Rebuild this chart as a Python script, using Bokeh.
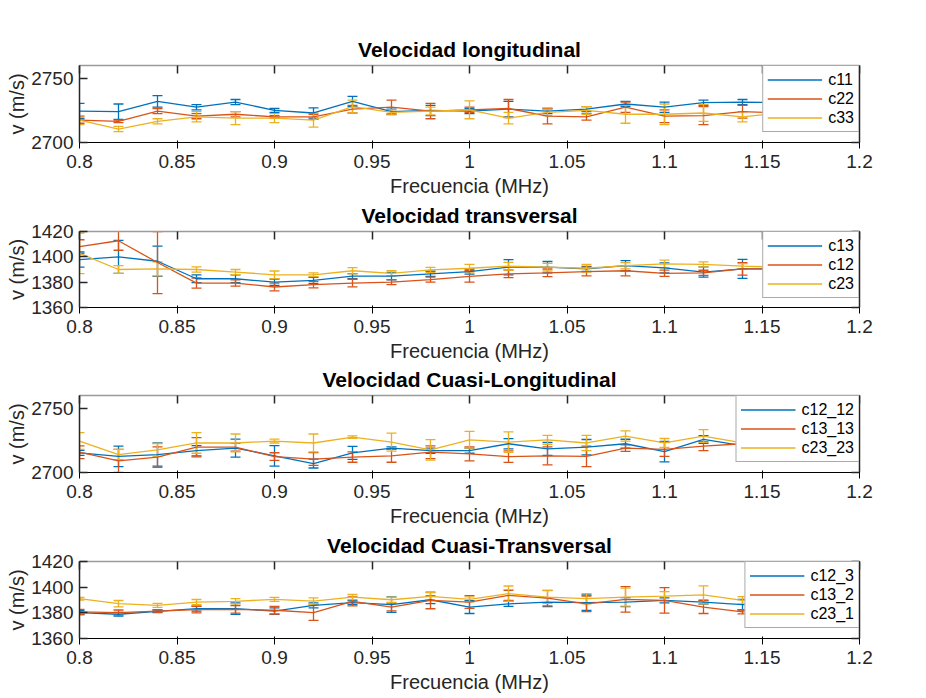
from bokeh.plotting import figure
from bokeh.models import (ColumnDataSource, Whisker, TeeHead, Range1d, FixedTicker,
                          NumeralTickFormatter, CustomJSTickFormatter, LinearAxis, Legend, LegendItem)
from bokeh.layouts import column
from bokeh.embed import file_html
from bokeh.resources import INLINE

freq = [0.80, 0.82, 0.84, 0.86, 0.88, 0.90, 0.92, 0.94, 0.96, 0.98, 1.00,
        1.02, 1.04, 1.06, 1.08, 1.10, 1.12, 1.14, 1.16, 1.18, 1.20]
x_ticks = [0.8, 0.85, 0.9, 0.95, 1.0, 1.05, 1.1, 1.15, 1.2]

# Panel 1: Velocidad longitudinal
c11_v = [2724.5, 2724, 2732, 2727.5, 2731.5, 2725, 2723, 2732, 2724, 2725, 2724.5,
         2726, 2724.5, 2726, 2730, 2727.5, 2731, 2731.5, 2731, 2727, 2734]
c11_e = [6, 6, 4.5, 2, 2, 1.5, 4, 4, 2, 4, 2, 6, 2, 2, 2, 4, 2, 2, 4, 3, 1]
c22_v = [2717.5, 2716.5, 2724.5, 2720.5, 2722, 2720, 2720, 2726, 2727.5, 2724.5, 2725.5,
         2726.5, 2720.5, 2720, 2727.5, 2720.5, 2721, 2724, 2723, 2727.5, 2724]
c22_e = [2.5, 1, 2, 2, 2, 1, 2, 3, 5.5, 6, 2, 7, 6, 2.5, 4, 5, 7, 5, 5, 3, 4.5]
c33_v = [2717.5, 2710.5, 2716.5, 2720, 2719, 2719, 2717.5, 2728, 2723.5, 2724.5, 2725.5,
         2719, 2723.5, 2725, 2722, 2722, 2723, 2720, 2723, 2722, 2731]
c33_e = [3.5, 2, 2, 4, 5, 3.5, 5.5, 5, 2, 3, 7, 4.5, 2.5, 3, 7, 8, 6.5, 4, 3, 8, 3]

# Panel 2: Velocidad transversal
c13_v = [1397.8, 1400, 1396.5, 1382.7, 1382.7, 1380, 1381.4, 1384.8, 1384.8, 1386.6, 1388.4,
         1391.8, 1391.8, 1390.5, 1393, 1391.3, 1388, 1390.5, 1390.5, 1389, 1386.6]
c13_e = [6, 13, 12, 3, 3, 2.5, 2.5, 2, 3, 2, 2, 6, 4.5, 2, 4, 4, 4, 7.5, 4.5, 3, 2]
c12_v = [1408, 1412.7, 1395.5, 1379.3, 1379.3, 1376.2, 1378, 1379.3, 1380, 1382, 1384.5,
         1386.6, 1387.4, 1388.4, 1389, 1387, 1387.4, 1390.5, 1390.5, 1393, 1392.4]
c12_e = [5.5, 7.5, 24.5, 4, 2.5, 3, 2.5, 3, 2, 2, 4.5, 3, 3, 3.5, 4, 2.5, 2, 5, 2, 6, 8]
c23_v = [1402.8, 1390, 1390.5, 1390, 1388, 1385.8, 1385.8, 1389, 1387, 1389.7, 1391,
         1392.6, 1391.8, 1391, 1393, 1394.4, 1394, 1392.6, 1391.8, 1393, 1392.6]
c23_e = [16, 3, 5.5, 2, 2, 3, 1.5, 2.5, 2, 2, 3, 3, 3, 3, 2.5, 3, 2, 2, 2, 2, 4]

# Panel 3: Velocidad Cuasi-Longitudinal
c12_12_v = [2715.3, 2712.6, 2714, 2717, 2719, 2713, 2707, 2715.3, 2719, 2717, 2717,
            2722.4, 2718.4, 2719.7, 2722.4, 2716.3, 2725.8, 2721, 2718, 2721, 2724.5]
c12_12_e = [2, 8, 9, 4, 7, 8, 3.5, 5, 1, 2, 2, 4, 5, 6, 3.5, 8, 3, 3.5, 2, 2, 3]
c13_13_v = [2715.8, 2709, 2712, 2719.7, 2719.7, 2712.4, 2710.5, 2712, 2713, 2715.8, 2714.5,
            2712.4, 2713, 2712.6, 2719, 2718, 2720.5, 2722.4, 2724.5, 2721.6, 2723]
c13_13_e = [5, 9, 8, 7.5, 3, 3, 5, 4, 5, 5, 5.5, 4.5, 7, 8, 2.5, 5.5, 3.5, 8, 4, 3, 7]
c23_23_v = [2724.5, 2714, 2717.6, 2723, 2723, 2724.5, 2723, 2727.6, 2723.7, 2717.6, 2725.5,
            2723.7, 2725.5, 2723, 2728.4, 2723, 2728.4, 2723, 2720, 2729.5, 2732]
c23_23_e = [6.5, 4, 5, 8, 7, 1.5, 7, 1, 7, 8, 6.5, 8, 3.5, 6, 4, 3.5, 5, 8.5, 5, 1.5, 6]

# Panel 4: Velocidad Cuasi-Transversal
c12_3_v = [1380.2, 1378.9, 1381.2, 1383.3, 1383.3, 1381.4, 1385.8, 1387.9, 1386.4, 1390.2, 1384.5,
           1387, 1388.4, 1387.9, 1388.4, 1389.7, 1388.4, 1386.4, 1387, 1385.3, 1382.5]
c12_3_e = [1.5, 1.5, 1, 2, 4.5, 2.5, 2, 1.5, 6, 3, 5, 2, 3.5, 6, 3.5, 2, 1.5, 4, 4, 3, 2]
c13_2_v = [1380.7, 1380.2, 1381.4, 1382.5, 1382.7, 1382, 1380.2, 1389, 1384.5, 1389.7, 1388.4,
           1393.6, 1391.5, 1387, 1390.5, 1389.7, 1384.5, 1380.7, 1381.2, 1382, 1383.3]
c13_2_e = [2, 2, 1, 2.5, 3, 3, 6, 3.5, 3, 6.5, 5, 4, 6, 6, 10, 10, 5, 1.5, 2, 3, 2]
c23_1_v = [1391, 1387.1, 1385.8, 1388.4, 1389, 1390.5, 1389.2, 1392.3, 1390.2, 1392.8, 1390.5,
           1394.9, 1392.3, 1391, 1392.3, 1393, 1394, 1389.7, 1391.5, 1390.2, 1390.2]
c23_1_e = [1, 2.5, 1.5, 2, 2, 1.5, 2.5, 2, 2, 3, 2, 6, 5, 4, 7, 3.5, 7, 3, 4, 2, 2]

COLORS = ["#0072BD", "#D95319", "#EDB120"]
FONT = "Liberation Sans"
AX = "#262626"
BLANK = CustomJSTickFormatter(code="return ''")


def make_panel(title, yr, yticks, series, frame_h, top_margin):
    p = figure(width=926, height=40 + frame_h + 58, min_border_left=79, min_border_right=67,
               min_border_top=40, min_border_bottom=58,
               x_range=Range1d(0.8, 1.2), y_range=Range1d(*yr),
               output_backend="svg", toolbar_location=None, title=title)
    p.margin = (top_margin, 0, 0, 0)
    p.border_fill_color = None
    p.outline_line_color = None
    p.background_fill_color = "white"
    p.xgrid.visible = False
    p.ygrid.visible = False
    p.title.align = "center"
    p.title.text_font = FONT
    p.title.text_font_size = "21px"
    p.title.text_font_style = "bold"
    p.title.text_color = "black"
    p.title.standoff = 9

    for ax in p.xaxis:
        ax.ticker = FixedTicker(ticks=x_ticks)
        ax.formatter = NumeralTickFormatter(format="0.[00]")
        ax.axis_label = "Frecuencia (MHz)"
        ax.axis_label_standoff = 4
        ax.major_label_standoff = 6
    for ax in p.yaxis:
        ax.ticker = FixedTicker(ticks=yticks)
        ax.axis_label = "v (m/s)"
        ax.axis_label_standoff = 0
        ax.major_label_standoff = 6
    for ax in p.xaxis + p.yaxis:
        ax.major_label_text_font = FONT
        ax.major_label_text_font_size = "19px"
        ax.major_label_text_color = AX
        ax.axis_label_text_font = FONT
        ax.axis_label_text_font_size = "20px"
        ax.axis_label_text_font_style = "normal"
        ax.axis_label_text_color = AX
    top_ax = LinearAxis(ticker=FixedTicker(ticks=x_ticks), formatter=BLANK,
                        major_label_standoff=0, major_label_text_font_size="4px")
    right_ax = LinearAxis(ticker=FixedTicker(ticks=yticks), formatter=BLANK,
                          major_label_standoff=0, major_label_text_font_size="4px")
    p.add_layout(top_ax, "above")
    p.add_layout(right_ax, "right")
    for ax in [p.xaxis[0], p.yaxis[0], top_ax, right_ax]:
        ax.axis_line_color = AX
        ax.axis_line_width = 1.5
        ax.major_tick_line_color = AX
        ax.major_tick_line_width = 1.5
        ax.major_tick_in = 8
        ax.major_tick_out = 0
        ax.minor_tick_line_color = None
    top_ax.axis_line_color = "#9a9a9a"

    items = []
    for (name, vals, errs), col in zip(series, COLORS):
        src = ColumnDataSource(dict(x=freq, y=vals,
                                    lo=[v - e for v, e in zip(vals, errs)],
                                    hi=[v + e for v, e in zip(vals, errs)]))
        r = p.line("x", "y", source=src, line_color=col, line_width=1.3)
        w = Whisker(base="x", upper="hi", lower="lo", source=src, line_color=col, line_width=1.3,
                    upper_head=TeeHead(size=10, line_color=col, line_width=1.3),
                    lower_head=TeeHead(size=10, line_color=col, line_width=1.3))
        p.add_layout(w)
        items.append(LegendItem(label=name, renderers=[r]))
    legend = Legend(items=items, location="top_right", margin=0,
                    label_text_font=FONT, label_text_font_size="16px", label_text_color="black",
                    glyph_width=55, glyph_height=19, label_height=19, spacing=0, padding=4,
                    label_standoff=6, border_line_color="#555555", border_line_width=1.2,
                    background_fill_color="white", background_fill_alpha=1.0)
    p.add_layout(legend, "center")
    return p


p1 = make_panel("Velocidad longitudinal", (2700, 2760), [2700, 2750],
                [("c11", c11_v, c11_e), ("c22", c22_v, c22_e), ("c33", c33_v, c33_e)], 77, 25)
p2 = make_panel("Velocidad transversal", (1360, 1420), [1360, 1380, 1400, 1420],
                [("c13", c13_v, c13_e), ("c12", c12_v, c12_e), ("c23", c23_v, c23_e)], 76, -9)
p3 = make_panel("Velocidad Cuasi-Longitudinal", (2700, 2760), [2700, 2750],
                [("c12_12", c12_12_v, c12_12_e), ("c13_13", c13_13_v, c13_13_e),
                 ("c23_23", c23_23_v, c23_23_e)], 77, -10)
p4 = make_panel("Velocidad Cuasi-Transversal", (1360, 1420), [1360, 1380, 1400, 1420],
                [("c12_3", c12_3_v, c12_3_e), ("c13_2", c13_2_v, c13_2_e),
                 ("c23_1", c23_1_v, c23_1_e)], 77, -9)

layout = column(p1, p2, p3, p4)
open("out.html", "w").write(file_html(layout, INLINE))
